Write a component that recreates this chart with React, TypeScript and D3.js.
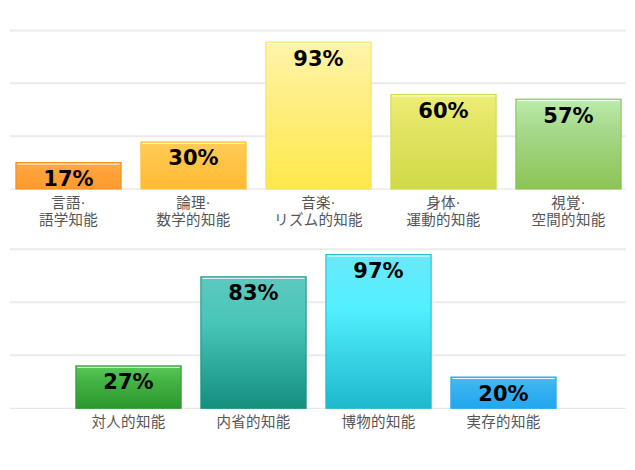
import React from "react";
import * as d3 from "d3";

const topCategories: string[][] = [
  ["言語·", "語学知能"],
  ["論理·", "数学的知能"],
  ["音楽·", "リズム的知能"],
  ["身体·", "運動的知能"],
  ["視覚·", "空間的知能"],
];
const topValues: number[] = [17, 30, 93, 60, 57];
const bottomCategories: string[] = ["対人的知能", "内省的知能", "博物的知能", "実存的知能"];
const bottomValues: number[] = [27, 83, 97, 20];
const yTicks: number[] = [0, 33.3, 66.7, 100];

const topColors = [
  { top: "#ffab45", mid: "#ffa23a", bottom: "#ff9a2e", stroke: "#f28c1e" },
  { top: "#ffcd5a", mid: "#ffc548", bottom: "#ffbb33", stroke: "#ffbf3a" },
  { top: "#fff4aa", mid: "#ffef88", bottom: "#ffe84a", stroke: "#f7e05a" },
  { top: "#eeee78", mid: "#e2e462", bottom: "#d0da48", stroke: "#cddb44" },
  { top: "#bcecab", mid: "#a6d88a", bottom: "#8cc455", stroke: "#86c04c" },
];
const bottomColors = [
  { top: "#58c858", mid: "#44b444", bottom: "#2c982c", stroke: "#2c962c" },
  { top: "#5ec8be", mid: "#48c6b8", bottom: "#148e7e", stroke: "#14907e" },
  { top: "#6ae8f8", mid: "#52f0ff", bottom: "#1eb8cc", stroke: "#20b8cc" },
  { top: "#46bcf2", mid: "#36b2f0", bottom: "#22a6ee", stroke: "#22a8ee" },
];

const W = 635;
const H = 470;

function Panel({
  values,
  labels,
  colors,
  xRange,
  base,
  topY,
  idPrefix,
}: {
  values: number[];
  labels: string[][];
  colors: { top: string; mid: string; bottom: string; stroke: string }[];
  xRange: [number, number];
  base: number;
  topY: number;
  idPrefix: string;
}) {
  const x = d3
    .scaleBand<number>()
    .domain(values.map((_, i) => i))
    .range(xRange)
    .paddingInner(0.15)
    .paddingOuter(0.075);
  const y = d3.scaleLinear().domain([0, 100]).range([base, topY]);
  return (
    <g>
      <defs>
        {colors.map((c, i) => (
          <linearGradient key={i} id={`${idPrefix}${i}`} x1="0" y1="0" x2="0" y2="1">
            <stop offset="0%" stopColor={c.top} />
            <stop offset="35%" stopColor={c.mid} />
            <stop offset="100%" stopColor={c.bottom} />
          </linearGradient>
        ))}
      </defs>
      {yTicks.map((t, i) => (
        <line
          key={i}
          x1={10}
          x2={626}
          y1={y(t)}
          y2={y(t)}
          stroke={t === 0 ? "#e2e2e2" : "#ebebeb"}
          strokeWidth={t === 0 ? 1 : 2}
        />
      ))}
      {values.map((v, i) => {
        const bx = x(i)!;
        const bw = x.bandwidth();
        const by = y(v);
        const bh = base - by;
        return (
          <g key={i}>
            <rect
              x={bx + 0.5}
              y={by + 0.5}
              width={bw - 1}
              height={bh - 0.5}
              fill={`url(#${idPrefix}${i})`}
              stroke={colors[i].stroke}
              strokeWidth={1}
            />
            <line
              x1={bx + 2}
              x2={bx + bw - 2}
              y1={by + 2}
              y2={by + 2}
              stroke="#ffffff"
              strokeOpacity={0.9}
              strokeWidth={1}
            />
            <text
              x={bx + bw / 2}
              y={by + 24}
              textAnchor="middle"
              fontFamily="'DejaVu Sans', sans-serif"
              fontWeight="bold"
              fontSize={21}
              fill="#000"
            >
              {v}%
            </text>
            <text
              x={bx + bw / 2}
              y={base + 18.5}
              textAnchor="middle"
              fontFamily="'DejaVu Sans', 'Noto Sans CJK JP', sans-serif"
              fontSize={14.5}
              letterSpacing={0.3}
              fill="#555"
            >
              {labels[i].map((line, j) => (
                <tspan key={j} x={bx + bw / 2} dy={j === 0 ? 0 : 17.5}>
                  {line}
                </tspan>
              ))}
            </text>
          </g>
        );
      })}
    </g>
  );
}

export default function App() {
  return (
    <svg
      width={W}
      height={H}
      style={{ position: "absolute", left: 0, top: 0, background: "#fff" }}
    >
      <rect x={0} y={0} width={W} height={H} fill="#fff" />
      <Panel
        values={topValues}
        labels={topCategories}
        colors={topColors}
        xRange={[6, 631]}
        base={189}
        topY={30.5}
        idPrefix="gt"
      />
      <Panel
        values={bottomValues}
        labels={bottomCategories.map((c) => [c])}
        colors={bottomColors}
        xRange={[66, 566]}
        base={408.3}
        topY={249.3}
        idPrefix="gb"
      />
    </svg>
  );
}
